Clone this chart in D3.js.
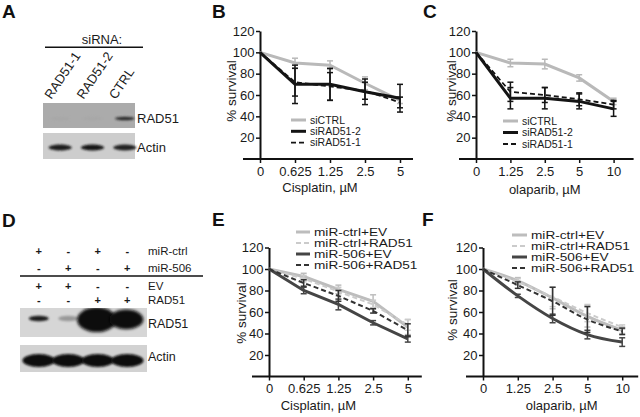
<!DOCTYPE html>
<html><head><meta charset="utf-8">
<script src="https://cdn.jsdelivr.net/npm/d3@7"></script>
<style>
body{margin:0;background:#fff;}
svg text{font-family:"Liberation Sans",Arial,Helvetica,sans-serif;fill:#1a1a1a;}
</style></head><body>
<svg id="fig" width="640" height="417"></svg>
<script>
// ---------------- data ----------------
const catsCis = ["0","0.625","1.25","2.5","5"];
const catsOla = ["0","1.25","2.5","5","10"];
const yTicks = [20,40,60,80,100,120];
const seriesSi = ["siCTRL","siRAD51-2","siRAD51-1"];
const seriesMir = ["miR-ctrl+EV","miR-ctrl+RAD51","miR-506+EV","miR-506+RAD51"];

// panel B (cisplatin, siRNA)
const bSiCTRL = [100,90,88,71,55];
const bSiCTRLErr = [0,4.5,4,6,3];
const bSiRAD51_2 = [100,70,70,63,57];
const bSiRAD51_2Err = [0,18,15,12,13];
const bSiRAD51_1 = [100,72,68,64,53];
const bSiRAD51_1Err = [0,13,13,8,5];

// panel C (olaparib, siRNA)
const cSiCTRL = [100,90,89,76,54];
const cSiCTRLErr = [0,3.5,4.5,3,3];
const cSiRAD51_2 = [100,57,57,54,47];
const cSiRAD51_2Err = [0,10,10,7,7];
const cSiRAD51_1 = [100,63,60,56,51];
const cSiRAD51_1Err = [0,9,7,6,4];

// panel E (cisplatin, miR)
const eCtrlEV = [100,93,81,70,46];
const eCtrlEVErr = [0,3,4,6,7];
const eCtrlRAD51 = [100,91,79,67,48];
const eCtrlRAD51Err = [0,3,4,4,5];
const e506EV = [100,80,67,50,35];
const e506EVErr = [0,3,5,2,3];
const e506RAD51 = [100,87,75,61,43];
const e506RAD51Err = [0,3,5,2,6];

// panel F (olaparib, miR)
const fCtrlEV = [100,89,73,56,43];
const fCtrlEVErr = [0,3,10,10,3];
const fCtrlRAD51 = [100,88,74,59,46];
const fCtrlRAD51Err = [0,3,9,8,2];
const f506EV = [100,75,54,39,32];
const f506EVErr = [0,1.5,4,4,4];
const f506RAD51 = [100,85,70,53,42];
const f506RAD51Err = [0,3,13,12,3];

// western blots
const lanesA = ["RAD51-1","RAD51-2","CTRL"];
const rad51A = [0.03,0.03,0.9];
const actinA = [0.95,1,0.92];
const lanesD = ["1","2","3","4"];
const mirCtrlD = ["+","-","+","-"];
const mir506D = ["-","+","-","+"];
const evD = ["+","+","-","-"];
const rad51RowD = ["-","-","+","+"];
const rad51D = [0.9,0.3,4,3.2];
const actinD = [1,1,1,1];

// ---------------- drawing ----------------
const svg = d3.select("#fig");
const defs = svg.append("defs");
defs.append("filter").attr("id","blur").attr("x","-30%").attr("y","-60%").attr("width","160%").attr("height","220%")
  .append("feGaussianBlur").attr("stdDeviation",1.1);
defs.append("filter").attr("id","blur2").attr("x","-30%").attr("y","-60%").attr("width","160%").attr("height","220%")
  .append("feGaussianBlur").attr("stdDeviation",1.8);

function letter(t,x,y){
  svg.append("text").attr("x",x).attr("y",y).text(t)
    .style("font-size","19px").style("font-weight","bold").style("fill","#111");
}
letter("A",2,18); letter("B",212,18); letter("C",423,18);
letter("D",2,227); letter("E",212,226); letter("F",422,226);

const styleSi = [
  {stroke:"#b9b9b9", w:3, dash:null},
  {stroke:"#141414", w:3, dash:null},
  {stroke:"#141414", w:1.8, dash:"5,3"}
];
const styleMir = [
  {stroke:"#bdbdbd", w:3, dash:null},
  {stroke:"#cbcbcb", w:2, dash:"5,3"},
  {stroke:"#454545", w:3, dash:null},
  {stroke:"#333333", w:2, dash:"5,3"}
];

function panel(cfg){
  const g = svg.append("g");
  const x = d3.scalePoint().domain(cfg.cats).range([cfg.ax, cfg.ax + cfg.step*(cfg.cats.length-1)]);
  const y = d3.scaleLinear().domain([0,120]).range([cfg.y0, cfg.y120]);

  // y axis
  const ya = g.append("g").attr("transform",`translate(${cfg.ax},0)`)
    .call(d3.axisLeft(y).tickValues(yTicks).tickSize(4).tickSizeOuter(0).tickPadding(1.5));
  ya.select(".domain").attr("stroke","#111").attr("stroke-width",2);
  ya.selectAll(".tick line").attr("stroke","#111").attr("stroke-width",1.5);
  ya.selectAll(".tick text").style("font-size","13px").style("font-family",null);

  // x axis
  const xa = g.append("g").attr("transform",`translate(0,${cfg.y0})`)
    .call(d3.axisBottom(x).tickSize(4).tickSizeOuter(0).tickPadding(3.5));
  xa.select(".domain").remove();
  xa.selectAll(".tick line").attr("stroke","#111").attr("stroke-width",1.5);
  xa.selectAll(".tick text").style("font-size","13px").style("font-family",null);
  g.append("line").attr("x1",x.range()[0]-17).attr("x2",x.range()[1]+cfg.xExt)
    .attr("y1",cfg.y0).attr("y2",cfg.y0).attr("stroke","#111").attr("stroke-width",2);

  // titles
  g.append("text").attr("x",(x.range()[0]+x.range()[1])/2+cfg.xtDx).attr("y",cfg.y0+cfg.xtDy)
    .attr("text-anchor","middle").style("font-size","13px").text(cfg.xTitle);
  g.append("text").attr("transform",`translate(${cfg.ylx},${cfg.yly}) rotate(-90)`)
    .attr("dy","0.35em").attr("text-anchor","middle").style("font-size","13.5px").text("% survival");

  // series
  const line = d3.line().x((d,i)=>x(cfg.cats[i])).y(d=>y(d)).curve(cfg.curve || d3.curveLinear);
  cfg.values.forEach((vals,si)=>{
    const st = cfg.styles[si];
    const errs = cfg.errs[si];
    const eg = g.append("g").attr("stroke",st.stroke).attr("stroke-width",1.5);
    vals.forEach((v,i)=>{
      const e = errs[i];
      if(!e) return;
      const cx = x(cfg.cats[i]);
      eg.append("line").attr("x1",cx).attr("x2",cx).attr("y1",y(v+e)).attr("y2",y(v-e));
      eg.append("line").attr("x1",cx-3).attr("x2",cx+3).attr("y1",y(v+e)).attr("y2",y(v+e));
      eg.append("line").attr("x1",cx-3).attr("x2",cx+3).attr("y1",y(v-e)).attr("y2",y(v-e));
    });
    g.append("path").datum(vals).attr("d",line).attr("fill","none")
      .attr("stroke",st.stroke).attr("stroke-width",st.w)
      .attr("stroke-dasharray",st.dash);
  });

  // legend
  const lg = g.append("g").attr("transform",`translate(${cfg.lx},${cfg.ly})`);
  cfg.names.forEach((n,i)=>{
    const st = cfg.styles[i];
    const r = lg.append("g").attr("transform",`translate(0,${i*cfg.ldy})`);
    r.append("line").attr("x1",0).attr("x2",cfg.llen).attr("y1",0).attr("y2",0)
      .attr("stroke",st.stroke).attr("stroke-width",st.w).attr("stroke-dasharray",st.dash);
    r.append("text").attr("transform",`translate(${cfg.llen+4},0) scale(${cfg.lsx},1)`).attr("dy","0.36em")
      .style("font-size",cfg.lfs).text(n);
  });
}

panel({cats:catsCis, ax:260, step:35, y0:159, y120:31, xExt:13,
  values:[bSiCTRL,bSiRAD51_2,bSiRAD51_1], errs:[bSiCTRLErr,bSiRAD51_2Err,bSiRAD51_1Err],
  styles:styleSi, names:seriesSi, xTitle:"Cisplatin, µM", xtDx:-10, xtDy:33,
  ylx:231, yly:91, lx:291, ly:120, ldy:11.3, llen:15, lfs:"10.5px", lsx:1});

panel({cats:catsOla, ax:476, step:34.4, y0:159, y120:31, xExt:20,
  values:[cSiCTRL,cSiRAD51_2,cSiRAD51_1], errs:[cSiCTRLErr,cSiRAD51_2Err,cSiRAD51_1Err],
  styles:styleSi, names:seriesSi, xTitle:"olaparib, µM", xtDx:0, xtDy:35,
  ylx:451, yly:91, lx:503, ly:121, ldy:11.5, llen:15, lfs:"10.5px", lsx:1});

panel({cats:catsCis, ax:269, step:34.7, y0:376.5, y120:247.5, xExt:14,
  values:[eCtrlEV,eCtrlRAD51,e506EV,e506RAD51], errs:[eCtrlEVErr,eCtrlRAD51Err,e506EVErr,e506RAD51Err],
  styles:styleMir, names:seriesMir, xTitle:"Cisplatin, µM", xtDx:-20, xtDy:33,
  ylx:241, yly:313, lx:296, ly:232, ldy:11, llen:14, lfs:"10.5px", lsx:1.3});

panel({cats:catsOla, ax:483, step:34.8, y0:376.5, y120:247.5, xExt:16, curve:d3.curveMonotoneX,
  values:[fCtrlEV,fCtrlRAD51,f506EV,f506RAD51], errs:[fCtrlEVErr,fCtrlRAD51Err,f506EVErr,f506RAD51Err],
  styles:styleMir, names:seriesMir, xTitle:"olaparib, µM", xtDx:9, xtDy:33.5,
  ylx:452, yly:310, lx:512, ly:235, ldy:11, llen:15, lfs:"10.5px", lsx:1.3});

// ---------- Panel A blot ----------
(function(){
  const g = svg.append("g");
  const xb = d3.scaleBand().domain(lanesA).range([44,141]);
  g.append("text").attr("x",102).attr("y",44).attr("text-anchor","middle").style("font-size","13px").text("siRNA:");
  g.append("line").attr("x1",45).attr("x2",143).attr("y1",47.3).attr("y2",47.3).attr("stroke","#111").attr("stroke-width",1.5);
  lanesA.forEach(l=>{
    g.append("text").attr("transform",`translate(${xb(l)+xb.bandwidth()/2-9},100) rotate(-56)`)
      .style("font-size","13px").text(l);
  });
  // RAD51 blot
  g.append("rect").attr("x",43).attr("y",103).attr("width",92).attr("height",25).attr("fill","#ababab");
  const c1 = d3.interpolateRgb("#ababab","#1c1c1c");
  lanesA.forEach((l,i)=>{
    g.append("ellipse").attr("cx",xb(l)+xb.bandwidth()/2).attr("cy",118.5)
      .attr("rx",xb.bandwidth()*0.3).attr("ry",1.8).attr("fill",c1(rad51A[i])).attr("filter","url(#blur)");
  });
  // Actin blot
  g.append("rect").attr("x",43).attr("y",133).attr("width",92).attr("height",26).attr("fill","#cdcdcd");
  const c2 = d3.interpolateRgb("#cdcdcd","#151515");
  lanesA.forEach((l,i)=>{
    g.append("ellipse").attr("cx",xb(l)+xb.bandwidth()/2).attr("cy",147.5)
      .attr("rx",xb.bandwidth()*0.36).attr("ry",3).attr("fill",c2(actinA[i])).attr("filter","url(#blur)");
  });
  g.append("text").attr("x",137).attr("y",122.5).style("font-size","13px").text("RAD51");
  g.append("text").attr("x",137).attr("y",151.5).style("font-size","13px").text("Actin");
})();

// ---------- Panel D blot ----------
(function(){
  const g = svg.append("g");
  const xb = d3.scaleBand().domain(lanesD).range([24,142]);
  const rows = [[mirCtrlD,"miR-ctrl",255],[mir506D,"miR-506",272],[evD,"EV",290],[rad51RowD,"RAD51",303.5]];
  rows.forEach(([signs,label,yy])=>{
    signs.forEach((s,i)=>{
      g.append("text").attr("x",xb(lanesD[i])+xb.bandwidth()/2).attr("y",yy).attr("text-anchor","middle")
        .style("font-size","11px").style("font-weight","bold").text(s);
    });
    g.append("text").attr("x",148).attr("y",yy).style("font-size","11.5px").text(label);
  });
  g.append("line").attr("x1",20).attr("x2",203).attr("y1",276).attr("y2",276).attr("stroke","#111").attr("stroke-width",1.5);

  defs.append("clipPath").attr("id","clipD1").append("rect").attr("x",20).attr("y",308).attr("width",127).attr("height",29);
  g.append("rect").attr("x",20).attr("y",308).attr("width",127).attr("height",29).attr("fill","#d6d6d6");
  const c1 = d3.interpolateRgb("#d6d6d6","#0a0a0a");
  const gb = g.append("g").attr("clip-path","url(#clipD1)");
  lanesD.forEach((l,i)=>{
    const v = rad51D[i];
    const over = Math.max(0,v-1);
    gb.append("ellipse").attr("cx",xb(l)+xb.bandwidth()/2+ (over>0? -1:0)).attr("cy",318.5+over*0.4)
      .attr("rx",xb.bandwidth()*0.34+over*3.2).attr("ry",2.8+over*3.2)
      .attr("fill",c1(Math.min(1,v))).attr("filter",over>0?"url(#blur2)":"url(#blur)");
  });
  g.append("rect").attr("x",20).attr("y",345).attr("width",127).attr("height",27).attr("fill","#d2d2d2");
  const c2 = d3.interpolateRgb("#d2d2d2","#0a0a0a");
  lanesD.forEach((l,i)=>{
    g.append("ellipse").attr("cx",xb(l)+xb.bandwidth()/2).attr("cy",360.5)
      .attr("rx",xb.bandwidth()*0.55).attr("ry",6.5).attr("fill",c2(actinD[i])).attr("filter","url(#blur)");
  });
  g.append("text").attr("x",148).attr("y",327.5).style("font-size","12.5px").text("RAD51");
  g.append("text").attr("x",148).attr("y",361).style("font-size","12.5px").text("Actin");
})();
</script>
</body></html>
